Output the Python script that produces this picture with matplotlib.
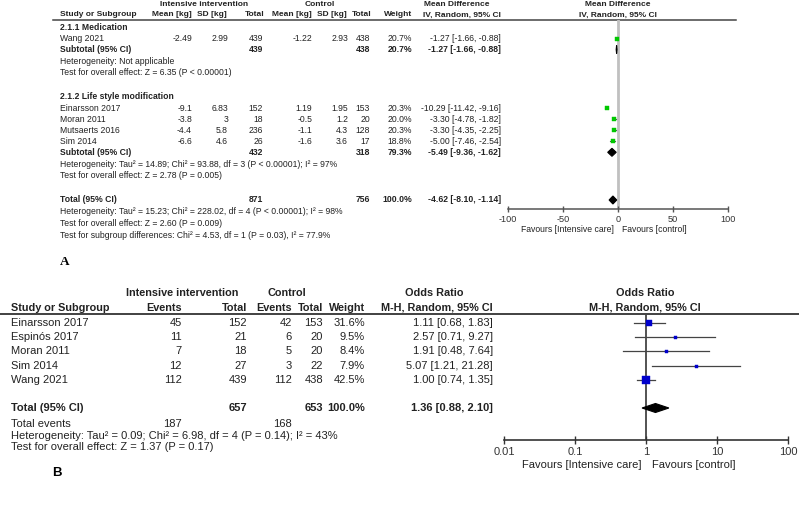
import matplotlib
matplotlib.use('Agg')
import matplotlib.pyplot as plt

plt.rcParams['font.family'] = ['Liberation Sans', 'DejaVu Sans']

# ---------------- data: panel A (mean difference, kg) ----------------
a_groups = ['2.1.1 Medication', '2.1.2 Life style modification']
a_studies = [['Wang 2021'],
             ['Einarsson 2017', 'Moran 2011', 'Mutsaerts 2016', 'Sim 2014']]
a_int_mean = [['-2.49'], ['-9.1', '-3.8', '-4.4', '-6.6']]
a_int_sd = [['2.99'], ['6.83', '3', '5.8', '4.6']]
a_int_n = [['439'], ['152', '18', '236', '26']]
a_ctl_mean = [['-1.22'], ['1.19', '-0.5', '-1.1', '-1.6']]
a_ctl_sd = [['2.93'], ['1.95', '1.2', '4.3', '3.6']]
a_ctl_n = [['438'], ['153', '20', '128', '17']]
a_weight = [[20.7], [20.3, 20.0, 20.3, 18.8]]
a_md = [[-1.27], [-10.29, -3.30, -3.30, -5.00]]
a_lo = [[-1.66], [-11.42, -4.78, -4.35, -7.46]]
a_hi = [[-0.88], [-9.16, -1.82, -2.25, -2.54]]
a_sub_n = [('439', '438'), ('432', '318')]
a_sub_w = [20.7, 79.3]
a_sub_md = [-1.27, -5.49]
a_sub_lo = [-1.66, -9.36]
a_sub_hi = [-0.88, -1.62]
a_sub_het = ['Heterogeneity: Not applicable',
             'Heterogeneity: Tau\u00b2 = 14.89; Chi\u00b2 = 93.88, df = 3 (P < 0.00001); I\u00b2 = 97%']
a_sub_test = ['Test for overall effect: Z = 6.35 (P < 0.00001)',
              'Test for overall effect: Z = 2.78 (P = 0.005)']
a_tot_n = ('871', '756')
a_tot = (-4.62, -8.10, -1.14)
a_tot_notes = ['Heterogeneity: Tau\u00b2 = 15.23; Chi\u00b2 = 228.02, df = 4 (P < 0.00001); I\u00b2 = 98%',
               'Test for overall effect: Z = 2.60 (P = 0.009)',
               'Test for subgroup differences: Chi\u00b2 = 4.53, df = 1 (P = 0.03), I\u00b2 = 77.9%']
a_ticks = [-100, -50, 0, 50, 100]

# ---------------- data: panel B (odds ratio) ----------------
b_studies = ['Einarsson 2017', 'Espin\u00f3s 2017', 'Moran 2011', 'Sim 2014', 'Wang 2021']
b_int_ev = ['45', '11', '7', '12', '112']
b_int_n = ['152', '21', '18', '27', '439']
b_ctl_ev = ['42', '6', '5', '3', '112']
b_ctl_n = ['153', '20', '20', '22', '438']
b_weight = [31.6, 9.5, 8.4, 7.9, 42.5]
b_or = [1.11, 2.57, 1.91, 5.07, 1.00]
b_lo = [0.68, 0.71, 0.48, 1.21, 0.74]
b_hi = [1.83, 9.27, 7.64, 21.28, 1.35]
b_tot_n = ('657', '653')
b_tot_ev = ('187', '168')
b_tot = (1.36, 0.88, 2.10)
b_notes = ['Heterogeneity: Tau\u00b2 = 0.09; Chi\u00b2 = 6.98, df = 4 (P = 0.14); I\u00b2 = 43%',
           'Test for overall effect: Z = 1.37 (P = 0.17)']
b_ticks = [0.01, 0.1, 1, 10, 100]
b_ticklabels = ['0.01', '0.1', '1', '10', '100']

W, H = 799, 507
fig = plt.figure(figsize=(W / 100, H / 100), dpi=100)
ax = fig.add_axes([0, 0, 1, 1])
ax.set_xlim(0, W)
ax.set_ylim(H, 0)
ax.axis('off')

TXT = '#222222'
fa = 6.2   # font size panel A
fb = 8.0   # font size panel B


def t(x, y, s, size, ha='left', bold=False, **kw):
    ax.text(x, y, s, fontsize=size, ha=ha, va='center', color=TXT,
            fontweight='bold' if bold else 'normal', **kw)


def fmt_ci(m, lo, hi):
    return f'{m:.2f} [{lo:.2f}, {hi:.2f}]'


# ================= PANEL A =================
colsA = {'name': 60, 'im': 192, 'isd': 228, 'in': 263, 'cm': 312, 'csd': 348,
         'cn': 370, 'w': 412, 'ci': 501}
fah = fa - 0.2
t(204, 5, 'Intensive intervention', fah, ha='center', bold=True)
t(320, 5, 'Control', fah, ha='center', bold=True)
t(457, 5, 'Mean Difference', fah, ha='center', bold=True)
t(618, 5, 'Mean Difference', fah, ha='center', bold=True)
t(colsA['name'], 15, 'Study or Subgroup', fah, bold=True)
t(colsA['im'], 15, 'Mean [kg]', fah, ha='right', bold=True)
t(colsA['isd'] - 1, 15, 'SD [kg]', fah, ha='right', bold=True)
t(colsA['in'] + 1, 15, 'Total', fah, ha='right', bold=True)
t(colsA['cm'], 15, 'Mean [kg]', fah, ha='right', bold=True)
t(colsA['csd'] - 1, 15, 'SD [kg]', fah, ha='right', bold=True)
t(colsA['cn'] + 1, 15, 'Total', fah, ha='right', bold=True)
t(colsA['w'], 15, 'Weight', fah, ha='right', bold=True)
t(colsA['ci'], 15, 'IV, Random, 95% CI', fah, ha='right', bold=True)
t(618, 15, 'IV, Random, 95% CI', fah, ha='center', bold=True)
ax.plot([53, 736], [19.5, 19.5], color='#444444', lw=1.1)

# forest axes A (bottom spine = scale axis)
axA_top, axA_bot, axA_l, axA_r = 19.5, 209, 508, 728
axA = fig.add_axes([axA_l / W, 1 - axA_bot / H, (axA_r - axA_l) / W, (axA_bot - axA_top) / H])
axA.set_xlim(-100, 100)
axA.set_ylim(axA_bot, axA_top)
axA.patch.set_alpha(0)
for s in ['top', 'left', 'right']:
    axA.spines[s].set_visible(False)
axA.spines['bottom'].set_color('#555555')
axA.spines['bottom'].set_linewidth(1.1)
axA.set_yticks([])
axA.set_xticks(a_ticks)
axA.set_xticklabels([str(v) for v in a_ticks], fontsize=fa + 0.4, color='#333333')
axA.tick_params(axis='x', direction='inout', length=5, width=1, color='#555555', pad=1.5)
axA.axvline(0, color='#c0c0c0', lw=2, zorder=0)

y = 27
for g in range(len(a_groups)):
    t(colsA['name'], y, a_groups[g], fa, bold=True)
    y += 11.5
    for i, name in enumerate(a_studies[g]):
        t(colsA['name'], y, name, fa)
        t(colsA['im'], y, a_int_mean[g][i], fa, ha='right')
        t(colsA['isd'], y, a_int_sd[g][i], fa, ha='right')
        t(colsA['in'], y, a_int_n[g][i], fa, ha='right')
        t(colsA['cm'], y, a_ctl_mean[g][i], fa, ha='right')
        t(colsA['csd'], y, a_ctl_sd[g][i], fa, ha='right')
        t(colsA['cn'], y, a_ctl_n[g][i], fa, ha='right')
        t(colsA['w'], y, f'{a_weight[g][i]:.1f}%', fa, ha='right')
        t(colsA['ci'], y, fmt_ci(a_md[g][i], a_lo[g][i], a_hi[g][i]), fa, ha='right')
        axA.plot([a_lo[g][i], a_hi[g][i]], [y, y], color='#555555', lw=0.8)
        side = 0.17 * a_weight[g][i] * 0.72
        axA.plot(a_md[g][i], y, marker='s', ms=side, color='#00c800', mec='#00c800', mew=0.3)
        y += 11
    t(colsA['name'], y, 'Subtotal (95% CI)', fa, bold=True)
    t(colsA['in'], y, a_sub_n[g][0], fa, ha='right', bold=True)
    t(colsA['cn'], y, a_sub_n[g][1], fa, ha='right', bold=True)
    t(colsA['w'], y, f'{a_sub_w[g]:.1f}%', fa, ha='right', bold=True)
    t(colsA['ci'], y, fmt_ci(a_sub_md[g], a_sub_lo[g], a_sub_hi[g]), fa, ha='right', bold=True)
    axA.fill([a_sub_lo[g], a_sub_md[g], a_sub_hi[g], a_sub_md[g]],
             [y, y - 4, y, y + 4], color='black', lw=0.8, ec='black')
    y += 12
    t(colsA['name'], y, a_sub_het[g], fa)
    y += 11.3
    t(colsA['name'], y, a_sub_test[g], fa)
    y += 24

y = 200
t(colsA['name'], y, 'Total (95% CI)', fa, bold=True)
t(colsA['in'], y, a_tot_n[0], fa, ha='right', bold=True)
t(colsA['cn'], y, a_tot_n[1], fa, ha='right', bold=True)
t(colsA['w'], y, '100.0%', fa, ha='right', bold=True)
t(colsA['ci'], y, fmt_ci(*a_tot), fa, ha='right', bold=True)
axA.fill([a_tot[1], a_tot[0], a_tot[2], a_tot[0]], [y, y - 4, y, y + 4],
         color='black', lw=0.8, ec='black')
for k, note in enumerate(a_tot_notes):
    t(colsA['name'], 212 + 11.8 * k, note, fa)
t(614, 229, 'Favours [Intensive care]', fa, ha='right')
t(622, 229, 'Favours [control]', fa, ha='left')
ax.text(60, 262, 'A', fontsize=9.5, family='Liberation Serif', fontweight='bold',
        va='center', ha='left', color='black')

# ================= PANEL B =================
colsB = {'name': 11, 'iev': 182, 'in': 247, 'cev': 292, 'cn': 323, 'w': 365, 'ci': 493}
fbh = fb - 0.2
t(182, 293, 'Intensive intervention', fbh, ha='center', bold=True)
t(287, 293, 'Control', fbh, ha='center', bold=True)
t(434, 293, 'Odds Ratio', fbh, ha='center', bold=True)
t(645, 293, 'Odds Ratio', fbh, ha='center', bold=True)
t(colsB['name'], 308, 'Study or Subgroup', fbh, bold=True)
t(colsB['iev'], 308, 'Events', fbh, ha='right', bold=True)
t(colsB['in'], 308, 'Total', fbh, ha='right', bold=True)
t(colsB['cev'], 308, 'Events', fbh, ha='right', bold=True)
t(colsB['cn'], 308, 'Total', fbh, ha='right', bold=True)
t(colsB['w'], 308, 'Weight', fbh, ha='right', bold=True)
t(colsB['ci'], 308, 'M-H, Random, 95% CI', fbh, ha='right', bold=True)
t(645, 308, 'M-H, Random, 95% CI', fbh, ha='center', bold=True)
ax.plot([0, W], [313.5, 313.5], color='#333333', lw=1.3)

axB_top, axB_bot, axB_l, axB_r = 313.5, 440, 504, 788
axB = fig.add_axes([axB_l / W, 1 - axB_bot / H, (axB_r - axB_l) / W, (axB_bot - axB_top) / H])
axB.set_xscale('log')
axB.set_xlim(0.01, 100)
axB.set_ylim(axB_bot, axB_top)
axB.patch.set_alpha(0)
for s in ['top', 'left', 'right']:
    axB.spines[s].set_visible(False)
axB.spines['bottom'].set_color('#333333')
axB.spines['bottom'].set_linewidth(1.2)
axB.set_yticks([])
axB.set_xticks(b_ticks)
axB.set_xticklabels(b_ticklabels, fontsize=fb, color='#333333')
axB.minorticks_off()
axB.tick_params(axis='x', direction='inout', length=6, width=1, color='#333333', pad=2)
axB.axvline(1, color='#444444', lw=1.3, zorder=0)

for i, name in enumerate(b_studies):
    y = 323 + 14.2 * i
    t(colsB['name'], y, name, fb)
    t(colsB['iev'], y, b_int_ev[i], fb, ha='right')
    t(colsB['in'], y, b_int_n[i], fb, ha='right')
    t(colsB['cev'], y, b_ctl_ev[i], fb, ha='right')
    t(colsB['cn'], y, b_ctl_n[i], fb, ha='right')
    t(colsB['w'], y, f'{b_weight[i]:.1f}%', fb, ha='right')
    t(colsB['ci'], y, fmt_ci(b_or[i], b_lo[i], b_hi[i]), fb, ha='right')
    axB.plot([b_lo[i], b_hi[i]], [y, y], color='#444444', lw=0.9)
    side = max(0.19 * b_weight[i], 3.0) * 0.72
    axB.plot(b_or[i], y, marker='s', ms=side, color='#0000cc', mec='#0000cc', mew=0.3)

y = 408
t(colsB['name'], y, 'Total (95% CI)', fb, bold=True)
t(colsB['in'], y, b_tot_n[0], fb, ha='right', bold=True)
t(colsB['cn'], y, b_tot_n[1], fb, ha='right', bold=True)
t(colsB['w'], y, '100.0%', fb, ha='right', bold=True)
t(colsB['ci'], y, fmt_ci(*b_tot), fb, ha='right', bold=True)
axB.fill([b_tot[1], b_tot[0], b_tot[2], b_tot[0]], [y, y - 4.5, y, y + 4.5],
         color='black', lw=0.8, ec='black')
t(colsB['name'], 424, 'Total events', fb)
t(colsB['iev'], 424, b_tot_ev[0], fb, ha='right')
t(colsB['cev'], 424, b_tot_ev[1], fb, ha='right')
for k, note in enumerate(b_notes):
    t(colsB['name'], 436 + 11 * k, note, fb)
t(642, 465, 'Favours [Intensive care]', fb, ha='right')
t(652, 465, 'Favours [control]', fb, ha='left')
ax.text(52, 473, 'B', fontsize=9.5, fontweight='bold', va='center', ha='left', color='black')

fig.savefig('out.png', dpi=100)
